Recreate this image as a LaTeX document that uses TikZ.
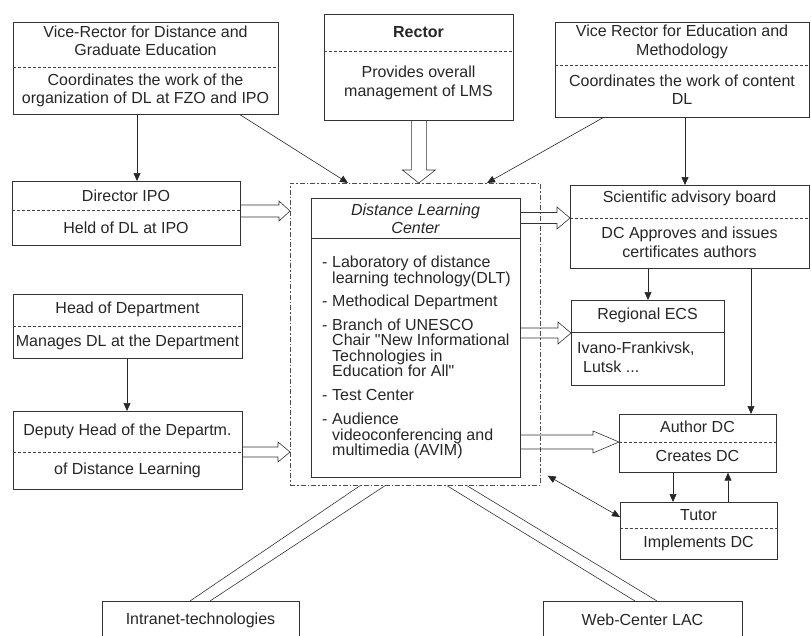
\documentclass[tikz,border=0pt]{standalone}
\usepackage{fontspec}
\setmainfont{Liberation Sans}[Ligatures=TeXOff]
\usetikzlibrary{arrows.meta,calc}
\newcommand\dsh{\makebox[10pt][l]{-}}
\newcommand\ind{\hspace*{10pt}}
\newcommand\fatH[5]{%
  \draw[fat] let \p1=(#1), \p2=(#2) in
    (\x1,\y1+#4pt) -- (\x2-#3pt,\y1+#4pt) -- (\x2-#3pt,\y1+#5pt) -- (\x2,\y1)
    -- (\x2-#3pt,\y1-#5pt) -- (\x2-#3pt,\y1-#4pt) -- (\x1,\y1-#4pt);}
\begin{document}
\begin{tikzpicture}[x=1pt,y=-1pt,
  box/.style={draw=black!80,line width=0.7pt,anchor=north west,inner sep=0pt},
  txt/.style={font=\fontsize{16}{18.5}\selectfont,text=black!85,align=center,inner sep=0pt},
  div/.style={draw=black!75,dash pattern=on 3pt off 2pt,line width=0.6pt},
  sdiv/.style={draw=black!80,line width=0.7pt},
  arr/.style={draw=black!85,line width=0.6pt,-{Triangle[length=8pt,width=7pt]}},
  arrb/.style={draw=black!85,line width=0.6pt,{Triangle[length=8pt,width=7pt]}-{Triangle[length=8pt,width=7pt]}},
  fat/.style={draw=black!80,line width=0.6pt,line join=miter}]
\clip (0,0) rectangle (811,635);

% boxes
\node[box,minimum width=265pt,minimum height=92pt] (vrd) at (13,22) {};
\draw[div] ($(vrd.north west)+(0,45)$) -- ($(vrd.north east)+(0,45)$);
\node[txt] (vrdA) at (145.5,41) {Vice-Rector for Distance and\\Graduate Education};
\node[txt] (vrdB) at (145.5,90.5) {Coordinates the work of the\\organization of DL at FZO and IPO};

\node[box,minimum width=189pt,minimum height=106pt] (rec) at (324,14) {};
\draw[div] ($(rec.north west)+(0,37)$) -- ($(rec.north east)+(0,37)$);
\node[txt] (recA) at (418.5,32) {\textbf{Rector}};
\node[txt] (recB) at (418.5,83) {Provides overall\\management of LMS};

\node[box,minimum width=254pt,minimum height=95pt] (vre) at (555,22) {};
\draw[div] ($(vre.north west)+(0,43)$) -- ($(vre.north east)+(0,43)$);
\node[txt] (vreA) at (682,42) {Vice Rector for Education and\\Methodology};
\node[txt] (vreB) at (682,89.5) {Coordinates the work of content\\DL};

\node[box,minimum width=228pt,minimum height=64pt] (dip) at (12,181) {};
\draw[div] ($(dip.north west)+(0,29)$) -- ($(dip.north east)+(0,29)$);
\node[txt] (dipA) at (126,196) {Director IPO};
\node[txt] (dipB) at (126,228) {Held of DL at IPO};

\node[box,minimum width=229pt,minimum height=64pt] (hod) at (13,294) {};
\draw[div] ($(hod.north west)+(0,32)$) -- ($(hod.north east)+(0,32)$);
\node[txt] (hodA) at (127.5,309) {Head of Department};
\node[txt] (hodB) at (127.5,342) {Manages DL at the Department};

\node[box,minimum width=229pt,minimum height=78pt] (dhd) at (13,411) {};
\draw[div] ($(dhd.north west)+(0,41)$) -- ($(dhd.north east)+(0,41)$);
\node[txt] (dhdA) at (127.5,431) {Deputy Head of the Departm.};
\node[txt] (dhdB) at (127.5,470) {of Distance Learning};

\node[box,draw=black!70,dash pattern=on 5pt off 2pt on 1.5pt off 2pt,minimum width=250pt,minimum height=302pt] (dlco) at (290,183) {};
\node[box,minimum width=209pt,minimum height=279pt] (dlc) at (311,198) {};
\draw[sdiv] ($(dlc.north west)+(0,40)$) -- ($(dlc.north east)+(0,40)$);
\node[txt] (dlcA) at (415.5,219) {\itshape Distance Learning\\\itshape Center};
\node[txt,align=left,anchor=north west,font=\fontsize{16}{15.5}\selectfont] (dlcB) at (322,256) {%
\dsh Laboratory of distance\\
\ind learning technology(DLT)\\[8pt]
\dsh Methodical Department\\[8pt]
\dsh Branch of UNESCO\\
\ind Chair "New Informational\\
\ind Technologies in\\
\ind Education for All"\\[8.5pt]
\dsh Test Center\\[8.5pt]
\dsh Audience\\
\ind videoconferencing and\\
\ind multimedia (AVIM)};

\node[box,minimum width=239pt,minimum height=83pt] (sab) at (570,185) {};
\draw[div] ($(sab.north west)+(0,33)$) -- ($(sab.north east)+(0,33)$);
\node[txt] (sabA) at (689.5,198) {Scientific advisory board};
\node[txt] (sabB) at (689.5,242.5) {DC Approves and issues\\certificates authors};

\node[box,minimum width=153pt,minimum height=85pt] (reg) at (571,300) {};
\draw[sdiv] ($(reg.north west)+(0,32)$) -- ($(reg.north east)+(0,32)$);
\node[txt] (regA) at (647.5,315) {Regional ECS};
\node[txt,align=left,anchor=north west,font=\fontsize{16}{19}\selectfont] (regB) at (577,342) {Ivano-Frankivsk,\\\hspace*{6pt}Lutsk ...};

\node[box,minimum width=157pt,minimum height=58pt] (aut) at (619,414) {};
\draw[div] ($(aut.north west)+(0,28)$) -- ($(aut.north east)+(0,28)$);
\node[txt] (autA) at (697.5,427) {Author DC};
\node[txt] (autB) at (697.5,456) {Creates DC};

\node[box,minimum width=157pt,minimum height=57pt] (tut) at (620,502) {};
\draw[div] ($(tut.north west)+(0,26)$) -- ($(tut.north east)+(0,26)$);
\node[txt] (tutA) at (698.5,515) {Tutor};
\node[txt] (tutB) at (698.5,543) {Implements DC};

\node[box,minimum width=197pt,minimum height=60pt] (intra) at (102,601) {};
\node[txt] (intraA) at (200.5,620) {Intranet-technologies};
\node[box,minimum width=199pt,minimum height=60pt] (web) at (543,601) {};
\node[txt] (webA) at (642.5,620) {Web-Center LAC};

% thin arrows
\draw[arr] ($(vrd.south west)+(124,0)$) -- ($(dip.north west)+(125,0)$);
\draw[arr] ($(vrd.south west)+(227,0)$) -- ($(dlco.north west)+(58,0)$);
\draw[arr] ($(vre.south west)+(48,0)$) -- ($(dlco.north west)+(197,0)$);
\draw[arr] ($(vre.south west)+(130,0)$) -- ($(sab.north west)+(115,0)$);
\draw[arr] ($(hod.south west)+(114,0)$) -- ($(dhd.north west)+(114,0)$);
\draw[arr] ($(sab.south west)+(78,0)$) -- ($(reg.north west)+(77,0)$);
\draw[arr] ($(sab.south west)+(181,0)$) -- ($(aut.north west)+(132,0)$);
\draw[arr] ($(aut.south west)+(54,0)$) -- ($(tut.north west)+(53,0)$);
\draw[arr] ($(tut.north west)+(108,0)$) -- ($(aut.south west)+(109,0)$);
\draw[arrb] ($(dlco.south east)+(7,-10)$) -- ($(tut.north west)+(0,15)$);

% double lines to the bottom boxes
\draw[fat] ($(dlco.south west)+(70,0)$) -- ($(intra.north west)+(88,0)$);
\draw[fat] ($(dlco.south west)+(95,0)$) -- ($(intra.north west)+(108,0)$);
\draw[fat] ($(dlco.south west)+(157,0)$) -- ($(web.north west)+(92,0)$);
\draw[fat] ($(dlco.south west)+(177,0)$) -- ($(web.north west)+(114,0)$);

% fat arrows
\fatH{$(dip.north east)+(0,30)$}{dlco.west}{11}{6}{10}
\fatH{$(dhd.north east)+(0,41)$}{dlco.west}{12}{5}{10}
\fatH{$(dlc.north east)+(0,20)$}{sab.west}{13}{5.5}{11}
\fatH{$(dlc.north east)+(0,135)$}{reg.west}{13}{5}{11}
\fatH{$(dlc.north east)+(0,244)$}{aut.west}{26}{7}{11}
\draw[fat] let \p1=(rec.south), \p2=(dlco.north) in
  (\x1-7.5pt,\y1) -- (\x1-7.5pt,\y2+13pt) -- (\x1-16.5pt,\y2+13pt) -- (\x1,\y2)
  -- (\x1+16.5pt,\y2+13pt) -- (\x1+7.5pt,\y2+13pt) -- (\x1+7.5pt,\y1);
\end{tikzpicture}
\end{document}
